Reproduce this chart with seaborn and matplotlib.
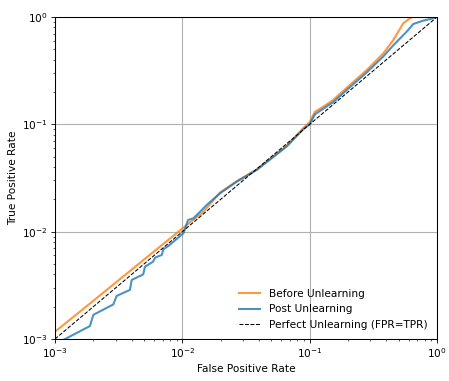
import numpy as np
import pandas as pd
import matplotlib
matplotlib.use("Agg")
import matplotlib.pyplot as plt
from matplotlib.ticker import LogLocator, NullFormatter
import seaborn as sns

# ROC points (FPR, TPR) of the membership-inference attack
fpr_before = [1.0e-3, 2.0e-3, 5.0e-3, 0.010, 0.0146, 0.0198, 0.0267, 0.0384, 0.066,
              0.089, 0.100, 0.110, 0.128, 0.153, 0.207, 0.281, 0.379, 0.454, 0.543,
              0.614, 0.650, 1.0]
tpr_before = [1.17e-3, 2.27e-3, 5.5e-3, 0.0107, 0.0153, 0.0232, 0.0295, 0.0380, 0.063,
              0.092, 0.105, 0.131, 0.146, 0.169, 0.233, 0.321, 0.459, 0.611, 0.873,
              0.975, 1.0, 1.0]

fpr_post = [1.0e-3, 1.2e-3, 1.88e-3, 2.0e-3, 2.87e-3, 3.05e-3, 3.88e-3, 4.0e-3, 4.93e-3,
            5.09e-3, 5.89e-3, 6.1e-3, 6.89e-3, 7.1e-3, 7.76e-3, 0.0102, 0.0111, 0.0122,
            0.0142, 0.0155, 0.0198, 0.0267, 0.0384, 0.066, 0.089, 0.100, 0.110, 0.128,
            0.153, 0.207, 0.281, 0.379, 0.454, 0.578, 0.652, 0.780, 0.900, 1.0]
tpr_post = [0.89e-3, 1.0e-3, 1.32e-3, 1.68e-3, 2.10e-3, 2.52e-3, 2.87e-3, 3.55e-3, 4.0e-3,
            4.72e-3, 5.25e-3, 5.72e-3, 6.07e-3, 6.86e-3, 7.35e-3, 9.66e-3, 0.01285, 0.0133,
            0.0159, 0.0177, 0.0228, 0.0292, 0.0376, 0.0622, 0.090, 0.100, 0.124, 0.140,
            0.161, 0.222, 0.305, 0.430, 0.545, 0.730, 0.861, 0.925, 0.962, 1.0]

diag = [1e-3, 1.0]

df_before = pd.DataFrame({"FPR": fpr_before, "TPR": tpr_before})
df_post = pd.DataFrame({"FPR": fpr_post, "TPR": tpr_post})
df_diag = pd.DataFrame({"FPR": diag, "TPR": diag})

plt.rcParams.update({
    "font.size": 7.6,
    "axes.linewidth": 0.75,
    "xtick.major.size": 2.6, "ytick.major.size": 2.6,
    "xtick.minor.size": 1.5, "ytick.minor.size": 1.5,
    "xtick.major.width": 0.6, "ytick.major.width": 0.6,
    "xtick.minor.width": 0.45, "ytick.minor.width": 0.45,
    "xtick.major.pad": 2.5, "ytick.major.pad": 2.5,
    "axes.labelpad": 3.0,
})
fig, ax = plt.subplots(figsize=(4.49, 3.81), dpi=100)
fig.subplots_adjust(left=0.1225, right=0.9733, top=0.9554, bottom=0.1102)

sns.lineplot(data=df_before, x="FPR", y="TPR", ax=ax, sort=False, estimator=None,
             color="tab:orange", alpha=0.8, linewidth=1.5, label="Before Unlearning")
sns.lineplot(data=df_post, x="FPR", y="TPR", ax=ax, sort=False, estimator=None,
             color="tab:blue", alpha=0.8, linewidth=1.5, label="Post Unlearning")
sns.lineplot(data=df_diag, x="FPR", y="TPR", ax=ax, sort=False, estimator=None,
             color="black", linestyle="--", linewidth=0.75,
             label="Perfect Unlearning (FPR=TPR)")

ax.set_xscale("log")
ax.set_yscale("log")
ax.set_xlim(1e-3, 1)
ax.set_ylim(1e-3, 1)
for axis in (ax.xaxis, ax.yaxis):
    axis.set_major_locator(LogLocator(base=10))
    axis.set_minor_locator(LogLocator(base=10, subs=np.arange(2, 10)))
    axis.set_minor_formatter(NullFormatter())
ax.grid(True, which="major", color="#b0b0b0", linewidth=0.8)
ax.set_xlabel("False Positive Rate")
ax.set_ylabel("True Positive Rate")
ax.legend(loc="lower right", frameon=False, handlelength=2.0)

fig.savefig("out.png", dpi=100)
